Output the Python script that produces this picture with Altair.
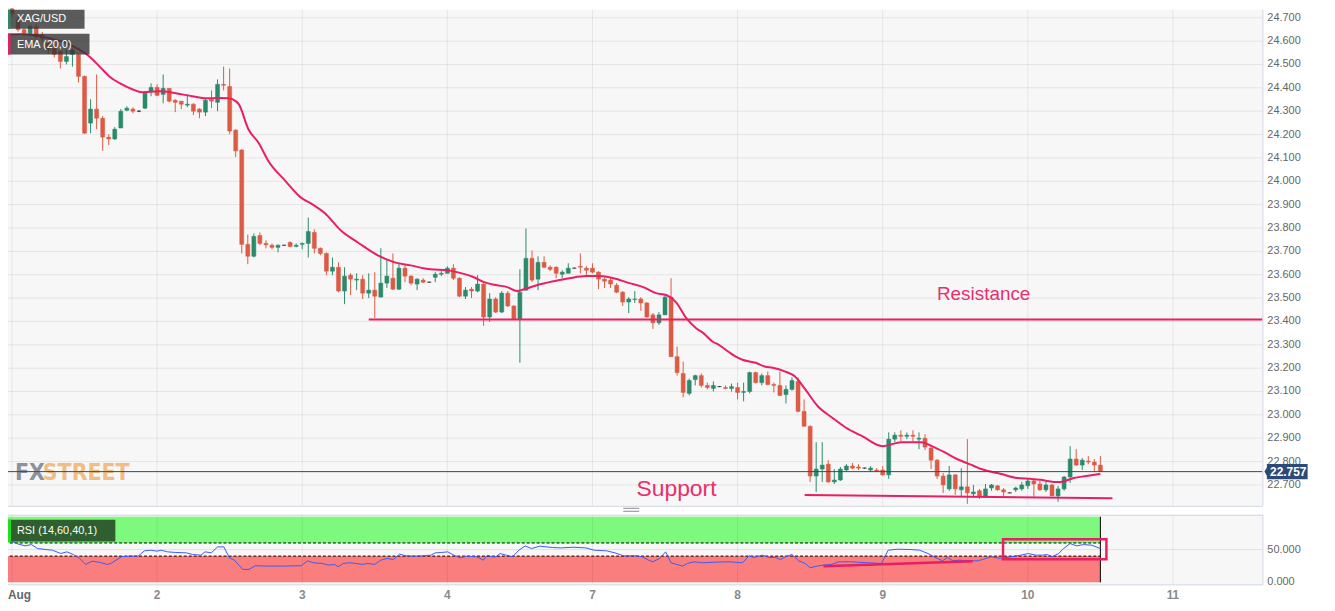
import altair as alt
import pandas as pd

# ---------------- data (hourly candles, t = hours from 1 Aug 00:00 in trading time) -------------
T_FIRST = -2
opens = [
    24.760, 24.747, 24.738, 24.691, 24.649, 24.632, 24.662, 24.627, 24.589, 24.568,
    24.555, 24.513, 24.543, 24.543, 24.449, 24.249, 24.309, 24.270, 24.189, 24.181,
    24.228, 24.304, 24.309, 24.300, 24.313, 24.385, 24.402, 24.372, 24.398, 24.347,
    24.343, 24.326, 24.330, 24.309, 24.296, 24.351, 24.338, 24.415, 24.406, 24.219,
    24.134, 23.730, 23.679, 23.768, 23.734, 23.726, 23.717, 23.726, 23.738, 23.721,
    23.730, 23.734, 23.781, 23.713, 23.691, 23.615, 23.632, 23.530, 23.598, 23.577,
    23.581, 23.521, 23.534, 23.504, 23.564, 23.585, 23.538, 23.628, 23.594, 23.560,
    23.577, 23.568, 23.589, 23.602, 23.606, 23.628, 23.585, 23.508, 23.538, 23.530,
    23.560, 23.419, 23.496, 23.440, 23.521, 23.466, 23.411, 23.534, 23.670, 23.581,
    23.653, 23.632, 23.632, 23.602, 23.606, 23.628, 23.636, 23.628, 23.628, 23.611,
    23.581, 23.577, 23.555, 23.525, 23.483, 23.494, 23.496, 23.479, 23.428, 23.394,
    23.428, 23.504, 23.249, 23.177, 23.092, 23.151, 23.168, 23.126, 23.113, 23.121,
    23.117, 23.113, 23.117, 23.096, 23.100, 23.181, 23.138, 23.168, 23.130, 23.126,
    23.087, 23.109, 23.143, 23.015, 22.951, 22.738, 22.768, 22.789, 22.713, 22.721,
    22.764, 22.781, 22.777, 22.772, 22.764, 22.764, 22.764, 22.743, 22.896, 22.913,
    22.908, 22.913, 22.896, 22.900, 22.858, 22.806, 22.738, 22.683, 22.743, 22.679,
    22.692, 22.662, 22.675, 22.649, 22.687, 22.696, 22.679, 22.666, 22.679, 22.683,
    22.696, 22.717, 22.704, 22.679, 22.700, 22.653, 22.683, 22.734, 22.811, 22.785,
    22.802, 22.798, 22.785,
]
highs = [
    24.768, 24.755, 24.764, 24.704, 24.657, 24.670, 24.674, 24.640, 24.598, 24.581,
    24.564, 24.564, 24.568, 24.547, 24.453, 24.351, 24.457, 24.279, 24.202, 24.232,
    24.309, 24.321, 24.317, 24.304, 24.385, 24.419, 24.415, 24.457, 24.398, 24.351,
    24.343, 24.372, 24.334, 24.313, 24.355, 24.389, 24.436, 24.491, 24.483, 24.223,
    24.138, 23.772, 23.777, 23.781, 23.747, 23.734, 23.730, 23.728, 23.743, 23.734,
    23.738, 23.845, 23.794, 23.717, 23.696, 23.674, 23.653, 23.632, 23.606, 23.606,
    23.598, 23.606, 23.611, 23.713, 23.666, 23.691, 23.649, 23.640, 23.598, 23.585,
    23.585, 23.570, 23.611, 23.615, 23.636, 23.645, 23.589, 23.547, 23.547, 23.598,
    23.564, 23.521, 23.504, 23.530, 23.530, 23.470, 23.623, 23.798, 23.704, 23.679,
    23.679, 23.640, 23.636, 23.619, 23.649, 23.630, 23.691, 23.636, 23.649, 23.615,
    23.589, 23.589, 23.564, 23.530, 23.504, 23.530, 23.504, 23.483, 23.436, 23.440,
    23.513, 23.585, 23.292, 23.228, 23.155, 23.172, 23.177, 23.138, 23.143, 23.123,
    23.126, 23.134, 23.138, 23.138, 23.185, 23.185, 23.177, 23.185, 23.138, 23.185,
    23.126, 23.160, 23.160, 23.066, 22.955, 22.883, 22.883, 22.806, 22.768, 22.777,
    22.789, 22.794, 22.789, 22.774, 22.781, 22.772, 22.781, 22.925, 22.925, 22.934,
    22.925, 22.934, 22.925, 22.917, 22.862, 22.811, 22.751, 22.781, 22.747, 22.772,
    22.896, 22.700, 22.683, 22.704, 22.704, 22.700, 22.687, 22.668, 22.692, 22.713,
    22.726, 22.726, 22.717, 22.713, 22.704, 22.696, 22.738, 22.866, 22.853, 22.815,
    22.824, 22.811, 22.824,
]
lows = [
    24.742, 24.726, 24.704, 24.640, 24.623, 24.623, 24.606, 24.598, 24.547, 24.530,
    24.483, 24.500, 24.491, 24.423, 24.202, 24.206, 24.223, 24.130, 24.155, 24.177,
    24.228, 24.300, 24.291, 24.296, 24.309, 24.364, 24.364, 24.334, 24.338, 24.296,
    24.309, 24.317, 24.283, 24.270, 24.279, 24.313, 24.300, 24.389, 24.202, 24.104,
    23.691, 23.645, 23.674, 23.726, 23.713, 23.709, 23.696, 23.724, 23.717, 23.717,
    23.709, 23.674, 23.691, 23.683, 23.598, 23.598, 23.525, 23.474, 23.513, 23.534,
    23.496, 23.500, 23.415, 23.504, 23.543, 23.534, 23.534, 23.568, 23.555, 23.534,
    23.564, 23.566, 23.568, 23.594, 23.606, 23.577, 23.504, 23.496, 23.500, 23.525,
    23.381, 23.398, 23.436, 23.436, 23.462, 23.406, 23.223, 23.530, 23.568, 23.534,
    23.628, 23.615, 23.585, 23.585, 23.606, 23.626, 23.606, 23.598, 23.606, 23.538,
    23.543, 23.543, 23.521, 23.466, 23.436, 23.479, 23.445, 23.415, 23.368, 23.385,
    23.428, 23.249, 23.168, 23.075, 23.083, 23.126, 23.117, 23.109, 23.100, 23.119,
    23.109, 23.100, 23.066, 23.058, 23.092, 23.134, 23.126, 23.126, 23.096, 23.083,
    23.049, 23.104, 23.011, 22.951, 22.713, 22.670, 22.713, 22.709, 22.704, 22.717,
    22.760, 22.768, 22.764, 22.770, 22.755, 22.755, 22.738, 22.726, 22.883, 22.887,
    22.896, 22.887, 22.853, 22.849, 22.768, 22.726, 22.666, 22.675, 22.658, 22.653,
    22.619, 22.645, 22.640, 22.645, 22.675, 22.675, 22.653, 22.664, 22.670, 22.675,
    22.683, 22.649, 22.675, 22.670, 22.653, 22.628, 22.675, 22.709, 22.781, 22.764,
    22.789, 22.755, 22.755,
]
closes = [
    24.747, 24.738, 24.717, 24.649, 24.632, 24.662, 24.619, 24.611, 24.564, 24.543,
    24.513, 24.534, 24.560, 24.449, 24.206, 24.309, 24.270, 24.189, 24.181, 24.223,
    24.300, 24.313, 24.300, 24.300, 24.377, 24.402, 24.368, 24.398, 24.343, 24.338,
    24.330, 24.330, 24.300, 24.296, 24.347, 24.343, 24.415, 24.411, 24.215, 24.130,
    23.730, 23.679, 23.764, 23.734, 23.728, 23.717, 23.726, 23.726, 23.721, 23.726,
    23.734, 23.785, 23.713, 23.691, 23.615, 23.632, 23.530, 23.594, 23.581, 23.581,
    23.521, 23.534, 23.508, 23.564, 23.594, 23.538, 23.628, 23.594, 23.564, 23.581,
    23.568, 23.568, 23.602, 23.606, 23.628, 23.585, 23.508, 23.534, 23.530, 23.560,
    23.419, 23.496, 23.440, 23.521, 23.466, 23.411, 23.525, 23.670, 23.577, 23.653,
    23.632, 23.623, 23.606, 23.611, 23.628, 23.628, 23.632, 23.619, 23.611, 23.581,
    23.572, 23.560, 23.525, 23.483, 23.496, 23.496, 23.479, 23.419, 23.394, 23.428,
    23.504, 23.249, 23.181, 23.096, 23.147, 23.168, 23.126, 23.117, 23.126, 23.121,
    23.113, 23.121, 23.096, 23.100, 23.181, 23.138, 23.168, 23.130, 23.126, 23.083,
    23.109, 23.147, 23.015, 22.951, 22.738, 22.768, 22.785, 22.713, 22.721, 22.768,
    22.781, 22.772, 22.772, 22.772, 22.772, 22.760, 22.743, 22.896, 22.913, 22.908,
    22.913, 22.908, 22.900, 22.862, 22.806, 22.738, 22.700, 22.743, 22.683, 22.692,
    22.666, 22.670, 22.649, 22.683, 22.700, 22.679, 22.670, 22.666, 22.687, 22.700,
    22.717, 22.704, 22.679, 22.700, 22.653, 22.683, 22.734, 22.811, 22.785, 22.806,
    22.798, 22.785, 22.757,
]

ema_t = [-1.97, -0.8, 1.3, 3.5, 6.2, 9.0, 11.2, 12.8, 14.5, 16.1, 17.8, 19.9, 21.5, 24.3,
         27.1, 29.8, 32.1, 34.2, 35.8, 37.0, 37.5, 39.1, 40.8, 42.4, 45.2, 47.8, 49.5, 51.8,
         54.4, 57.2, 60.5, 63.3, 65.9, 69.2, 72.0, 73.6, 76.4, 78.1, 80.2, 81.9, 83.5, 84.7,
         86.8, 89.6, 92.2, 95.0, 97.2, 99.5, 102.1, 104.4, 106.5, 108.2, 109.8, 111.5, 113.1,
         114.3, 115.9, 116.9, 118.5, 119.7, 120.8, 123.0, 124.6, 125.8, 127.9, 129.5, 131.2,
         133.3, 135.6, 137.8, 140.6, 144.0, 147.1, 150.4, 152.1, 154.2, 156.3, 159.1, 160.3,
         163.6, 166.2, 168.5, 170.1, 172.3, 173.4, 175.6, 177.7, 180.0]
ema_v = [24.606, 24.628, 24.630, 24.626, 24.612, 24.591, 24.563, 24.534, 24.491, 24.449,
         24.420, 24.394, 24.381, 24.385, 24.377, 24.364, 24.355, 24.357, 24.355, 24.343,
         24.330, 24.223, 24.164, 24.087, 24.002, 23.930, 23.904, 23.862, 23.789, 23.738,
         23.683, 23.653, 23.640, 23.623, 23.619, 23.611, 23.589, 23.568, 23.555, 23.547,
         23.530, 23.538, 23.555, 23.572, 23.585, 23.594, 23.594, 23.585, 23.564, 23.547,
         23.521, 23.513, 23.483, 23.415, 23.372, 23.351, 23.313, 23.300, 23.270, 23.249,
         23.236, 23.223, 23.206, 23.202, 23.185, 23.164, 23.109, 23.036, 22.989, 22.947,
         22.909, 22.866, 22.883, 22.883, 22.866, 22.840, 22.811, 22.781, 22.768, 22.747,
         22.730, 22.726, 22.722, 22.713, 22.713, 22.730, 22.738, 22.747]

rsi_t = [-1.97, -0.94, 0.79, 2.18, 3.22, 4.25, 5.64, 6.68, 8.06, 9.10,
         10.14, 11.18, 12.21, 13.25, 14.63, 15.67, 16.36, 18.10, 19.48, 20.86,
         21.90, 22.94, 23.97, 24.67, 25.71, 27.09, 28.82, 29.85, 31.24, 31.93,
         32.97, 34.01, 35.05, 35.95, 36.78, 38.16, 39.20, 40.24, 42.31, 45.08,
         47.85, 48.89, 49.93, 51.31, 52.35, 53.38, 53.94, 54.77, 55.81, 56.84,
         57.88, 58.92, 59.96, 60.99, 62.03, 63.07, 64.11, 65.15, 66.53, 67.91,
         69.30, 69.98, 71.03, 72.07, 73.10, 74.14, 75.18, 76.91, 77.95, 78.64,
         79.33, 80.02, 80.72, 81.75, 82.79, 83.83, 84.87, 85.91, 87.29, 89.36,
         90.75, 92.82, 94.90, 96.28, 98.35, 99.73, 101.13, 103.21, 104.24, 105.28,
         106.0, 107.1, 108.1, 109.0, 110.9, 111.7, 112.8, 114.2, 116.4, 118.6,
         120.8, 121.9, 122.7, 124.1, 125.2, 126.2, 127.1, 127.9, 129.0, 130.1,
         131.2, 132.0, 133.1, 134.2, 135.6, 136.7, 138.9, 141.6, 143.8, 144.9,
         146.5, 148.7, 150.1, 151.5, 152.5, 153.9, 154.7, 155.6, 156.7, 158.0,
         159.7, 160.5, 161.9, 163.5, 165.2, 166.8, 168.1, 169.3, 170.4, 171.2,
         172.0, 173.1, 173.9, 175.0, 176.1, 177.2, 178.6, 180.0]
rsi_v = [67.7, 67.7, 59, 55.6, 57.6, 51.5, 50, 49, 44, 46.5,
         42.4, 36.4, 27.3, 32.3, 30.3, 27.3, 28.8, 39, 40, 40,
         48, 49, 47.5, 49, 46.5, 45.5, 45, 42.5, 41.4, 46.5,
         45, 54, 54, 37.4, 33.8, 19.7, 19.7, 25.3, 24.8, 24.8,
         25.3, 32.8, 29.8, 28.8, 26.3, 27.3, 23.7, 28.8, 29.8, 28.8,
         27.3, 28.8, 27.3, 33.8, 36.4, 34.8, 43, 40.4, 39.9, 40.4,
         41.4, 44.9, 45.5, 46.5, 41.4, 37.4, 39.9, 38.9, 33.8, 41.4,
         38.9, 38.9, 43.9, 41.4, 38.9, 49, 55.6, 51.5, 55.1, 53.1,
         52.5, 53.5, 52.5, 49, 48, 44.9, 40.4, 40.4, 38.9, 33.8,
         31.3, 36.4, 46.5, 29.8, 24.7, 28.8, 31.3, 29.8, 30.8, 31.3,
         29.8, 40.4, 37.9, 41.4, 37.9, 37.9, 34.8, 38.9, 42.4, 32.8,
         28.8, 22.2, 24.7, 26.3, 27.3, 31.3, 31.3, 29.8, 28.8, 49,
         50.5, 50, 49, 43.9, 38.9, 32.8, 37.9, 32.8, 33.8, 32.8,
         32.8, 34.8, 38.9, 36.4, 38.9, 41.4, 43.9, 41.4, 41.4, 42.4,
         38.9, 43.9, 51.5, 59.1, 55.6, 57.6, 56.6, 51.5]

day_t = [0, 24, 48, 72, 96, 120, 144, 168, 192]
day_labels = ["Aug", "2", "3", "4", "7", "8", "9", "10", "11"]
price_ticks = [22.7, 22.8, 22.9, 23.0, 23.1, 23.2, 23.3, 23.4, 23.5, 23.6, 23.7,
               23.8, 23.9, 24.0, 24.1, 24.2, 24.3, 24.4, 24.5, 24.6, 24.7]
rsi_ticks = [50, 0]
rsi_tick_labels = ["50.000", "0.000"]
rsi_upper, rsi_lower = 60, 40

resistance_t = [59.0, 206.8]
resistance_p = [23.4085, 23.4085]
support_t = [131.1, 182.0]
support_p = [22.657, 22.643]
note_t = [160.7, 109.9]
note_p = [23.4915, 22.6545]
note_text = ["Resistance", "Support"]
note_size = [19, 23]
rsi_trend_t = [134.2, 158.9]
rsi_trend_v = [24.7, 32.3]
rsi_box_t = [163.9, 181.0]
rsi_box_v = [35.3, 65.6]

# ---------------- styles ----------------
GREEN = "#2b8a6c"
RED = "#dc5b45"
PINK = "#e91e63"
NAVY = "#2c4a78"
FONT = "Liberation Sans"
WM_FONT = "Liberation Sans Narrow, DejaVu Sans Condensed, sans-serif"

XS = alt.Scale(domain=[0, 192], range=[4, 1172], nice=False, zero=False)
YP = alt.Scale(domain=[22.7, 24.7], range=[478, 8], nice=False, zero=False)
YR = alt.Scale(domain=[0, 100], range=[576, 510], nice=False, zero=False)
DIR = alt.Scale(domain=["up", "down", "flat"], range=[GREEN, RED, "#222222"])

n = len(closes)
cd = pd.DataFrame({"t": list(range(T_FIRST, T_FIRST + n)), "open": opens,
                   "high": highs, "low": lows, "close": closes})
cd["dir"] = ["up" if c > o else ("down" if c < o else "flat") for o, c in zip(opens, closes)]
cd["t0"] = cd["t"] - 0.33
cd["t1"] = cd["t"] + 0.33

one = pd.DataFrame({"k": [0]})
days = pd.DataFrame({"t": day_t, "label": day_labels})
pticks = pd.DataFrame({"p": price_ticks, "lab": [f"{v:.3f}" for v in price_ticks]})


def box(x0, x1, y0, y1, color, opacity=1.0):
    return alt.Chart(one).mark_rect(color=color, opacity=opacity).encode(
        x=alt.value(x0), x2=alt.value(x1), y=alt.value(y0), y2=alt.value(y1))


def label(text, x, y, size=11, color="white", weight="normal", font=FONT):
    return alt.Chart(one).mark_text(text=text, align="left", baseline="middle",
                                    fontSize=size, color=color, fontWeight=weight,
                                    font=font).encode(x=alt.value(x), y=alt.value(y))


def hline(x0, x1, y, color, w=1):
    return alt.Chart(one).mark_rule(color=color, strokeWidth=w).encode(
        x=alt.value(x0), x2=alt.value(x1), y=alt.value(y))


def vline(x, y0, y1, color, w=1):
    return alt.Chart(one).mark_rule(color=color, strokeWidth=w).encode(
        x=alt.value(x), y=alt.value(y0), y2=alt.value(y1))


# ---------------- price panel ----------------
gap = box(0, 1262, 499, 508, "white")
hgrid_p = alt.Chart(pticks).mark_rule(color="#e5e5e5", strokeWidth=1).encode(
    y=alt.Y("p:Q", scale=YP, axis=None))
plabels = alt.Chart(pticks).mark_text(align="left", baseline="middle", fontSize=11,
                                      color="#666666", font=FONT).encode(
    x=alt.value(1267), y=alt.Y("p:Q", scale=YP, axis=None), text="lab:N")
vgrid_p = alt.Chart(days).mark_rule(color="black", opacity=0.075).encode(
    x=alt.X("t:Q", scale=XS, axis=None), y=alt.value(0), y2=alt.value(499))
wm_fx = label("FX", 7, 466, size=23, color="#8c919b", weight="bold", font=WM_FONT)
wm_st = label("STREET", 35, 466, size=23, color="#f0bd86", weight="bold", font=WM_FONT)

wicks = alt.Chart(cd).mark_rule(strokeWidth=1).encode(
    x=alt.X("t:Q", scale=XS, axis=None),
    y=alt.Y("low:Q", scale=YP, axis=None),
    y2="high:Q",
    color=alt.Color("dir:N", scale=DIR, legend=None))
bodies = alt.Chart(cd).mark_rect(strokeWidth=1, strokeOpacity=0.5).encode(
    x=alt.X("t0:Q", scale=XS, axis=None), x2="t1:Q",
    y=alt.Y("open:Q", scale=YP, axis=None), y2="close:Q",
    fill=alt.Fill("dir:N", scale=DIR, legend=None),
    stroke=alt.Stroke("dir:N", scale=DIR, legend=None))

res_line = alt.Chart(pd.DataFrame({"t": resistance_t, "p": resistance_p})).mark_line(
    color=PINK, strokeWidth=2).encode(
    x=alt.X("t:Q", scale=XS, axis=None), y=alt.Y("p:Q", scale=YP, axis=None))
sup_line = alt.Chart(pd.DataFrame({"t": support_t, "p": support_p})).mark_line(
    color=PINK, strokeWidth=2).encode(
    x=alt.X("t:Q", scale=XS, axis=None), y=alt.Y("p:Q", scale=YP, axis=None))
ema = alt.Chart(pd.DataFrame({"t": ema_t, "v": ema_v})).mark_line(
    color=PINK, strokeWidth=2, interpolate="monotone").encode(
    x=alt.X("t:Q", scale=XS, axis=None), y=alt.Y("v:Q", scale=YP, axis=None))
last = pd.DataFrame({"price": [closes[-1]], "label": [f"{closes[-1]:.3f}"]})
price_rule = alt.Chart(last).mark_rule(color=NAVY, strokeWidth=1).encode(
    y=alt.Y("price:Q", scale=YP, axis=None))
notes = alt.Chart(pd.DataFrame({"t": note_t, "p": note_p, "txt": note_text, "fs": note_size})
                  ).mark_text(align="center", baseline="alphabetic", color="#ea2e6c", font=FONT).encode(
    x=alt.X("t:Q", scale=XS, axis=None), y=alt.Y("p:Q", scale=YP, axis=None),
    text="txt:N", size=alt.Size("fs:Q", scale=None, legend=None))
tag_shape = "M-1.12,0L-1,-0.2L-1,-0.37L1,-0.37L1,0.37L-1,0.37L-1,0.2Z"
tag = alt.Chart(last).mark_point(shape=tag_shape, size=1681, filled=True, color=NAVY,
                                 opacity=1, strokeWidth=0).encode(
    x=alt.value(1287), y=alt.Y("price:Q", scale=YP, axis=None))
tag_txt = alt.Chart(last).mark_text(color="white", fontWeight="bold", fontSize=12,
                                    font=FONT, align="center", baseline="middle").encode(
    x=alt.value(1288), y=alt.Y("price:Q", scale=YP, axis=None), text="label:N")

lab_xag = [box(0, 77, 0, 19, "#333333", 0.8), box(0, 2.5, 0, 19, GREEN),
           label("XAG/USD", 9, 9)]
lab_ema = [box(0, 82, 24, 45, "#333333", 0.8), box(0, 2.5, 24, 45, PINK),
           label("EMA (20,0)", 9, 35)]
borders_p = [vline(1262.5, 0, 499, "#cfd5e1"), hline(0, 1262.5, 499.5, "#cfd5e1"),
             hline(619, 635, 501.5, "#8a8a8a"), hline(619, 635, 504.5, "#8a8a8a")]

price_group = alt.layer(gap, hgrid_p, plabels, vgrid_p, wm_fx, wm_st, wicks, bodies,
                        res_line, sup_line, ema, price_rule, notes, tag, tag_txt,
                        *lab_xag, *lab_ema, *borders_p)

# ---------------- RSI panel ----------------
t_lo, t_hi = cd["t"].min(), cd["t"].max()
zones = pd.DataFrame({"t0": [t_lo, t_lo], "t1": [t_hi, t_hi], "lo": [rsi_upper, 0],
                      "hi": [100, rsi_lower], "c": ["#7dfa7d", "#fa7e7e"]})
levels = pd.DataFrame({"t0": [t_lo, t_lo], "t1": [t_hi, t_hi], "lv": [rsi_upper, rsi_lower]})

mid = alt.Chart(pd.DataFrame({"lv": [50]})).mark_rule(color="#e2e2e2").encode(
    y=alt.Y("lv:Q", scale=YR, axis=None))
fills = alt.Chart(zones).mark_rect().encode(
    x=alt.X("t0:Q", scale=XS, axis=None), x2="t1:Q",
    y=alt.Y("lo:Q", scale=YR, axis=None), y2="hi:Q",
    color=alt.Color("c:N", scale=None, legend=None))
vgrid_r = alt.Chart(days).mark_rule(color="black", opacity=0.075).encode(
    x=alt.X("t:Q", scale=XS, axis=None), y=alt.value(508), y2=alt.value(578))
dashes = alt.Chart(levels).mark_rule(color="black", strokeWidth=1, strokeDash=[3, 2]).encode(
    x=alt.X("t0:Q", scale=XS, axis=None), x2="t1:Q", y=alt.Y("lv:Q", scale=YR, axis=None))
end_line = alt.Chart(pd.DataFrame({"t": [t_hi], "a": [0], "b": [100]})).mark_rule(
    color="black", strokeWidth=1).encode(
    x=alt.X("t:Q", scale=XS, axis=None), y=alt.Y("a:Q", scale=YR, axis=None), y2="b:Q")
rsi_line = alt.Chart(pd.DataFrame({"t": rsi_t, "v": rsi_v})).mark_line(
    color="#3b5cf2", strokeWidth=1).encode(
    x=alt.X("t:Q", scale=XS, axis=None), y=alt.Y("v:Q", scale=YR, axis=None))
trend = alt.Chart(pd.DataFrame({"t": rsi_trend_t, "v": rsi_trend_v})).mark_line(
    color=PINK, strokeWidth=2.5).encode(
    x=alt.X("t:Q", scale=XS, axis=None), y=alt.Y("v:Q", scale=YR, axis=None))
rbox = alt.Chart(pd.DataFrame({"t0": [rsi_box_t[0]], "t1": [rsi_box_t[1]],
                               "v0": [rsi_box_v[0]], "v1": [rsi_box_v[1]]})).mark_rect(
    filled=False, stroke=PINK, strokeWidth=2.5).encode(
    x=alt.X("t0:Q", scale=XS, axis=None), x2="t1:Q",
    y=alt.Y("v0:Q", scale=YR, axis=None), y2="v1:Q")
rsi_axis = alt.Chart(pd.DataFrame({"v": rsi_ticks, "lab": rsi_tick_labels})).mark_text(
    align="left", baseline="middle", fontSize=11, color="#666666", font=FONT).encode(
    x=alt.value(1267), y=alt.Y("v:Q", scale=YR, axis=None), text="lab:N")
date_lab = alt.Chart(days).transform_filter("datum.label != 'Aug'").mark_text(
    align="center", baseline="middle", fontSize=12, fontWeight="bold",
    color="#8a8a8a", font=FONT).encode(
    x=alt.X("t:Q", scale=XS, axis=None), y=alt.value(589), text="label:N")
date_first = alt.Chart(days).transform_filter("datum.label == 'Aug'").mark_text(
    align="left", baseline="middle", fontSize=12, fontWeight="bold",
    color="#666666", font=FONT, dx=-4).encode(
    x=alt.X("t:Q", scale=XS, axis=None), y=alt.value(589), text="label:N")
lab_rsi = [box(0, 108, 513, 535, "#2f5e2f"), box(0, 3, 513, 535, "#1fe01f"),
           label("RSI (14,60,40,1)", 9, 524)]
borders_r = [hline(0, 1262.5, 508.5, "#cfd5e1"), hline(0, 1262.5, 578.5, "#cfd5e1"),
             vline(1262.5, 508, 578.5, "#cfd5e1")]

rsi_group = alt.layer(mid, fills, vgrid_r, dashes, end_line, rsi_line, trend, rbox,
                      rsi_axis, date_lab, date_first, *lab_rsi, *borders_r)

chart = (
    alt.layer(price_group, rsi_group)
    .resolve_scale(y="independent")
    .properties(width=1262, height=578,
                autosize=alt.AutoSizeParams(type="none"),
                padding={"left": 0, "top": 0, "right": 65, "bottom": 25})
    .configure(font=FONT)
    .configure_view(fill="#f7f7f7", strokeWidth=0)
)

chart.save("out.html", embed_options={"renderer": "svg", "actions": False})
